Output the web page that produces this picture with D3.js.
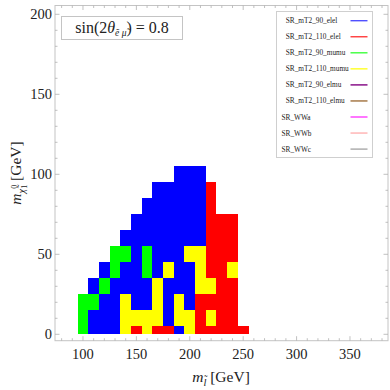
<!DOCTYPE html>
<html><head><meta charset="utf-8">
<script src="https://cdn.jsdelivr.net/npm/d3@7"></script>
<style>body{margin:0;background:#fff}svg{display:block}text{font-family:"Liberation Serif","DejaVu Serif",serif}</style>
</head><body><div id="chart"></div>
<script>
// ---- data ----
const mSlepton = [100,110,120,130,140,150,160,170,180,190,200,210,220,230,240,250];
const mChi = [0,10,20,30,40,50,60,70,80,90,100];
// best signal region per grid point; rows follow mChi, columns follow mSlepton
// B = SR_mT2_90_elel, R = SR_mT2_110_elel, G = SR_mT2_90_mumu, Y = SR_mT2_110_mumu, . = none
const bestRegion = [
  "GBBBYRYRRBYRRRRR",
  "GBBBYYYYBYYRYRR.",
  "GGBBYBBYBYBRRRR.",
  ".BGBBBBYBBBYYRR.",
  "..BGBBGBYBBYRRY.",
  "...GGBGBBBYYRRR.",
  "....BBBBBBBBRRR.",
  ".....BBBBBBBRRR.",
  "......BBBBBBR...",
  ".......BBBBBR...",
  ".........BBB....",
];
const regionCodes = {B:"SR_mT2_90_elel", R:"SR_mT2_110_elel", G:"SR_mT2_90_mumu", Y:"SR_mT2_110_mumu"};
const legendLabels = ["SR_mT2_90_elel","SR_mT2_110_elel","SR_mT2_90_mumu","SR_mT2_110_mumu",
                      "SR_mT2_90_elmu","SR_mT2_110_elmu","SR_WWa","SR_WWb","SR_WWc"];
const legendColors = ["#5050ff","#ff3c3c","#3cff3c","#ffff20","#800080","#a0703c","#ff3cff","#ffb0b0","#a8a8a8"];
const fillColors = {"SR_mT2_90_elel":"#0000ff","SR_mT2_110_elel":"#ff0000","SR_mT2_90_mumu":"#00ff00","SR_mT2_110_mumu":"#ffff00"};
const xTicks = [100,150,200,250,300,350];
const yTicks = [0,50,100,150,200];
const paramText = "0.8";

// ---- layout ----
const W = 390, H = 390;
const svg = d3.select("#chart").append("svg").attr("width", W).attr("height", H);
const L = 55, R = 388, T = 5.5, B = 340.7;
const x = d3.scaleLinear().domain([73.8, 385.6]).range([L, R]);
const y = d3.scaleLinear().domain([-4, 205.5]).range([B, T]);

// cells
const cells = [];
bestRegion.forEach((row, i) => {
  row.split("").forEach((c, j) => {
    if (regionCodes[c]) cells.push({ml: mSlepton[j], mc: mChi[i], region: regionCodes[c]});
  });
});
const rx = v => Math.round(x(v)), ry = v => Math.round(y(v));
svg.append("g").attr("shape-rendering", "crispEdges").selectAll("rect").data(cells).join("rect")
  .attr("x", d => rx(d.ml - 5))
  .attr("width", d => rx(d.ml + 5) - rx(d.ml - 5))
  .attr("y", d => ry(d.mc + 5))
  .attr("height", d => ry(Math.max(d.mc - 5, 0)) - ry(d.mc + 5))
  .attr("fill", d => fillColors[d.region]);

// frame
const frameCol = "#c4c4c4";
svg.append("rect").attr("x", L).attr("y", T).attr("width", R - L).attr("height", B - T)
  .attr("fill", "none").attr("stroke", frameCol).attr("stroke-width", 1);

// ticks
const gT = svg.append("g").attr("stroke", "#b0b0b0").attr("stroke-width", 0.8);
d3.range(80, 390, 10).forEach(v => {
  const len = v % 50 === 0 ? 4.5 : 2.5, px = x(v);
  if (px > L && px < R) {
    gT.append("line").attr("x1", px).attr("x2", px).attr("y1", B).attr("y2", B - len);
    gT.append("line").attr("x1", px).attr("x2", px).attr("y1", T).attr("y2", T + len);
  }
});
d3.range(0, 210, 10).forEach(v => {
  const len = v % 50 === 0 ? 4.5 : 2.5, py = y(v);
  gT.append("line").attr("x1", L).attr("x2", L + len).attr("y1", py).attr("y2", py);
  gT.append("line").attr("x1", R).attr("x2", R - len).attr("y1", py).attr("y2", py);
});

// tick labels
svg.append("g").selectAll("text").data(xTicks).join("text")
  .attr("x", d => x(d)).attr("y", 358.5).attr("text-anchor", "middle")
  .attr("font-size", 14.5).attr("fill", "#222").text(d => d);
svg.append("g").selectAll("text").data(yTicks).join("text")
  .attr("x", 52).attr("y", d => y(d) + 5).attr("text-anchor", "end")
  .attr("font-size", 14.5).attr("fill", "#222").text(d => d);

// axis titles
const xt = svg.append("text").attr("x", 221).attr("y", 381.5).attr("text-anchor", "middle")
  .attr("font-size", 15.5).attr("fill", "#222");
xt.append("tspan").attr("font-style", "italic").text("m");
xt.append("tspan").attr("font-style", "italic").attr("font-size", 10.5).attr("dy", 4).text("l\u0303");
xt.append("tspan").attr("dy", -4).text(" [GeV]");

const yt = svg.append("text").attr("transform", "translate(21,173) rotate(-90)")
  .attr("text-anchor", "middle").attr("font-size", 15.5).attr("fill", "#222");
yt.append("tspan").attr("font-style", "italic").text("m");
yt.append("tspan").attr("font-style", "italic").attr("font-size", 10.5).attr("dy", 4).text("\u03c7\u0303");
yt.append("tspan").attr("font-size", 8).attr("dy", -8).text("0");
yt.append("tspan").attr("font-size", 8).attr("dx", -4).attr("dy", 10).text("1");
yt.append("tspan").attr("dy", -6).text(" [GeV]");

// parameter inset
svg.append("rect").attr("x", 61.5).attr("y", 16.5).attr("width", 121).attr("height", 23)
  .attr("fill", "#fff").attr("stroke", "#c4c4c4").attr("stroke-width", 1);
const pt = svg.append("text").attr("x", 122).attr("y", 32.5).attr("text-anchor", "middle")
  .attr("font-size", 16).attr("fill", "#222");
pt.append("tspan").text("sin(2");
pt.append("tspan").attr("font-style", "italic").text("\u03b8");
pt.append("tspan").attr("font-style", "italic").attr("font-size", 9.5).attr("dy", 3.5).text("e\u0303 \u03bc\u0303");
pt.append("tspan").attr("dy", -3.5).text(") = " + paramText);

// legend
svg.append("rect").attr("x", 276.5).attr("y", 11.5).attr("width", 96).attr("height", 146)
  .attr("fill", "#fff").attr("stroke", "#cfcfcf").attr("stroke-width", 1);
const lg = svg.append("g").selectAll("g").data(legendLabels).join("g")
  .attr("transform", (d, i) => `translate(0,${20.7 + i * 16.05})`);
lg.append("text").attr("x", d => d.startsWith("SR_WW") ? 281.5 : 285.8).attr("y", 2.5)
  .attr("font-size", 7.3).attr("fill", "#222").text(d => d);
lg.append("line").attr("x1", 350.5).attr("x2", 367.5).attr("y1", 0).attr("y2", 0)
  .attr("stroke", (d, i) => legendColors[i]).attr("stroke-width", 1.4);
</script></body></html>
